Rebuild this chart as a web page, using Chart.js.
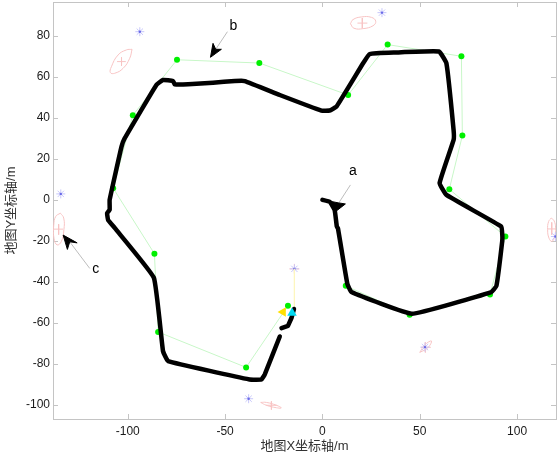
<!DOCTYPE html>
<html>
<head>
<meta charset="utf-8">
<style>
  body { margin: 0; background: #fff; }
  canvas { display: block; filter: blur(0.3px); }
</style>
<script src="https://cdn.jsdelivr.net/npm/chart.js@4"></script>
</head>
<body>
<canvas id="mapChart" width="559" height="456"></canvas>
<script>
const xTicks = [-100, -50, 0, 50, 100];
const yTicks = [-100, -80, -60, -40, -20, 0, 20, 40, 60, 80];

// driven track
const trackMain = [[0,0],[3.8,-1],[6.3,-5],[7.4,-13],[8,-14],[12.8,-41],[14.9,-45],[46,-55.6],[86.8,-45],[89.4,-42],
  [92.4,-20],[92.4,-17],[91.9,-13],[63.7,2.4],[60.2,8.2],[67.4,29.3],[67.4,34],[63.7,66.7],[59.9,72.4],[37.1,71.9],
  [24.3,71.2],[20.9,66.7],[7.2,45.5],[3.7,43.6],[-0.5,43.6],[-21.9,51.2],[-39.9,58],[-45,58],[-56.2,57.2],[-69,56.4],
  [-75.9,56.4],[-76.7,58],[-81.9,58.5],[-85.3,56.1],[-101.6,30],[-103.2,26],[-109.3,0],[-109.3,-4.9],[-110.6,-6.5],
  [-110.1,-9.8],[-106.7,-13.7],[-86.6,-38],[-81.9,-73.8],[-79.3,-78.7],[-37.4,-87.7],[-31.3,-87.7],[-29.6,-85.2],[-21.9,-66.7]];
const trackEnd = [[-21,-62.6],[-17.7,-61.5],[-15.9,-57.7],[-14.6,-53.3]];

const greenPath = [[12,-42],[44.8,-56.1],[86.1,-46.2],[94,-17.9],[65.2,5.2],[71.9,31.4],[71.4,70.1],[33.5,75.8],[13.2,51.2],
  [-32.4,66.8],[-74.7,68.4],[-97.4,41.3],[-107.5,5.7],[-86.3,-26.3],[-84.4,-64.5],[-39.2,-81.8],[-17.7,-51.7]];
const yellowLine = [[-14.4,-33.7],[-14.4,-53.2]];

const stars = [[-93.8,82.1],[-134.4,2.9],[30.6,91.4],[-37.9,-97.1],[-14.4,-33.7],[52.7,-71.9],[119.7,-17.9]];
const redCross = [[-14.4,-33.7]];
const yellowMark = [[-20.2,-54.8]];
const cyanMark = [[-15.6,-55.3]];

const ellipse1 = [[-97.8,73.5],[-100.7,73.2],[-105,70.7],[-108.4,65],[-108.9,62.1],[-106.7,61.8],[-102.4,64.2],[-99,69.1],[-97.8,73.5]];
const ellipse2 = [[14.4,86],[15.7,88],[20,89.3],[25.2,89.1],[27.4,87.2],[26,85],[20.9,83.6],[16.2,83.8],[14.4,86]];
const ellipse3 = [[-134.6,-6.5],[-137,-8.1],[-138,-12.2],[-137.9,-18.7],[-136.3,-22],[-134.1,-20.3],[-132.8,-14.6],[-132.9,-8.9],[-134.6,-6.5]];
const ellipse4 = [[117.6,-8.9],[116.2,-10.6],[115.7,-14.6],[116.4,-18.7],[117.9,-20.3],[119.3,-17.9],[119.8,-13.7],[119,-10.2],[117.6,-8.9]];
const ellipse5 = [[-31.7,-98.9],[-28.8,-98.9],[-23.6,-100.3],[-21.1,-101.6],[-23.6,-101.5],[-28.8,-100.3],[-31.7,-98.9]];
const ellipse6 = [[50,-74.5],[52.5,-70.9],[56,-68.9],[54.2,-72.2],[50,-74.5]];
const crosses = [[-105.5,67.5],[-101,67.5],null,[-103.2,69.6],[-103.2,65.4],null,
  [18,86.3],[23.1,86.3],null,[20.5,88.8],[20.5,83.9],null,
  [-138,-14.3],[-133.2,-14.3],null,[-135.5,-11.9],[-135.5,-17],null,
  [115.7,-14.2],[119.8,-14.2],null,[117.8,-11],[117.8,-17],null,
  [-29,-100.3],[-23.4,-100.3],null,[-26.2,-98.4],[-26.2,-102.4],null,
  [50.5,-72],[55.7,-72],null,[52.9,-69.5],[52.9,-74.5]];

const arrowLines = [[14.4,7.3],[8.4,-1.5],null,[-48.8,82.1],[-54.8,73.5],null,[-119.5,-33.5],[-129.8,-20.5]];
const headA = [[6.8,-5.7],[11.8,-2],[8.4,-1.5],[4.6,-0.8],[6.8,-5.7]];
const headB = [[-57.5,69.6],[-51.9,73.5],[-54.8,73.5],[-56.2,76.4],[-57.5,69.6]];
const headC = [[-133.2,-17.2],[-126,-21],[-129.8,-20.5],[-131,-24.2],[-133.2,-17.2]];

const noteLabels = ['a', 'b', 'c'];
const noteSpots = [[15.7,13.8],[-45.7,85],[-116.4,-34]];

const axisGrey = '#c4c4c4';
const latinCjk = '"Liberation Sans","Noto Sans CJK SC",sans-serif';

const pts = list => list.map(p => p ? {x: p[0], y: p[1]} : {x: null, y: null});
const lineSet = (list, color, width, extra) => Object.assign({
  data: pts(list), borderColor: color, borderWidth: width, pointRadius: 0, showLine: true, spanGaps: false
}, extra);
const red = list => lineSet(list, '#f8c4c4', 1, {tension: 0.45});
const head = list => lineSet(list, '#000', 1, {fill: 'shape', backgroundColor: '#000'});

// chart.js keeps room for half of the outer tick labels, the box has to sit at a fixed spot
const noPadding = s => { s.getPadding = () => ({left: 0, top: 0, right: 0, bottom: 0}); };

// boxed axes with inward ticks on all four sides, plus the a/b/c notes
const frame = {
  id: 'frame',
  beforeDatasetsDraw(chart) {
    const {ctx, chartArea: a, scales: {x, y}} = chart;
    ctx.save();
    ctx.strokeStyle = axisGrey;
    ctx.lineWidth = 1;
    ctx.beginPath();
    xTicks.forEach(v => {
      const p = Math.round(x.getPixelForValue(v)) + 0.5;
      ctx.moveTo(p, a.bottom); ctx.lineTo(p, a.bottom - 5);
      ctx.moveTo(p, a.top); ctx.lineTo(p, a.top + 5);
    });
    yTicks.forEach(v => {
      const p = Math.round(y.getPixelForValue(v)) + 0.5;
      ctx.moveTo(a.left, p); ctx.lineTo(a.left + 5, p);
      ctx.moveTo(a.right, p); ctx.lineTo(a.right - 5, p);
    });
    ctx.stroke();
    ctx.strokeRect(a.left + 0.5, a.top + 0.5, a.right - a.left, a.bottom - a.top);
    ctx.restore();
  },
  afterDatasetsDraw(chart) {
    const {ctx, scales: {x, y}} = chart;
    ctx.save();
    ctx.fillStyle = '#000';
    ctx.font = '14px "Liberation Sans"';
    ctx.textAlign = 'center';
    ctx.textBaseline = 'middle';
    noteLabels.forEach((t, i) => {
      ctx.fillText(t, x.getPixelForValue(noteSpots[i][0]), y.getPixelForValue(noteSpots[i][1]));
    });
    ctx.restore();
  }
};

new Chart(document.getElementById('mapChart'), {
  type: 'scatter',
  data: {
    datasets: [
      {data: pts(yellowMark), pointStyle: 'triangle', rotation: -90, pointRadius: 5.5, backgroundColor: '#ffe000', borderWidth: 0},
      {data: pts(cyanMark), pointStyle: 'triangle', rotation: 0, pointRadius: 5.5, backgroundColor: '#00d8f0', borderWidth: 0},
      head(headA), head(headB), head(headC),
      lineSet(trackMain, '#000', 4.5, {borderJoinStyle: 'round', borderCapStyle: 'round', tension: 0.1}),
      lineSet(trackEnd, '#000', 4.5, {borderJoinStyle: 'round', borderCapStyle: 'round'}),
      lineSet(arrowLines, '#bdbdbd', 1),
      {data: pts(greenPath), pointStyle: 'circle', pointRadius: 3, backgroundColor: '#00f000', showLine: true, borderColor: '#c8f7c8', borderWidth: 1, pointBorderWidth: 0},
      lineSet(yellowLine, '#fdf6c0', 1),
      {data: pts(stars), pointStyle: 'circle', pointRadius: 1.2, backgroundColor: '#6a6ae8', borderWidth: 0},
      {data: pts(stars), pointStyle: 'star', pointRadius: 4.5, borderColor: '#c8c8fa', borderWidth: 1, backgroundColor: 'transparent'},
      {data: pts(redCross), pointStyle: 'cross', pointRadius: 5, borderColor: '#f8c4c4', borderWidth: 1},
      red(ellipse1), red(ellipse2), red(ellipse3), red(ellipse4), red(ellipse5), red(ellipse6),
      lineSet(crosses, '#f8c4c4', 1)
    ]
  },
  options: {
    responsive: false,
    animation: false,
    layout: {autoPadding: false, padding: {top: 2, right: 3, left: 0, bottom: 0}},
    plugins: {legend: {display: false}, tooltip: {enabled: false}},
    scales: {
      x: {
        type: 'linear', min: -138.4, max: 120,
        afterBuildTicks: s => { s.ticks = xTicks.map(v => ({value: v})); },
        afterFit: s => { s.height = 37; noPadding(s); },
        grid: {display: false, drawTicks: false}, border: {display: false},
        ticks: {color: '#1a1a1a', padding: 5, maxRotation: 0, autoSkip: false, font: {size: 12, family: '"Liberation Sans"'}},
        title: {display: true, text: '地图X坐标轴/m', color: '#333', font: {size: 13, family: latinCjk}, padding: {top: 0, bottom: 2}}
      },
      y: {
        type: 'linear', min: -107, max: 96.6,
        afterBuildTicks: s => { s.ticks = yTicks.map(v => ({value: v})); },
        afterFit: s => { s.width = 53; noPadding(s); },
        grid: {display: false, drawTicks: false}, border: {display: false},
        ticks: {color: '#1a1a1a', padding: 3, autoSkip: false, font: {size: 12, family: '"Liberation Sans"'}},
        title: {display: true, text: '地图Y坐标轴/m', color: '#333', font: {size: 13, family: latinCjk}, padding: {top: 4, bottom: 0}}
      }
    }
  },
  plugins: [frame]
});
</script>
</body>
</html>
